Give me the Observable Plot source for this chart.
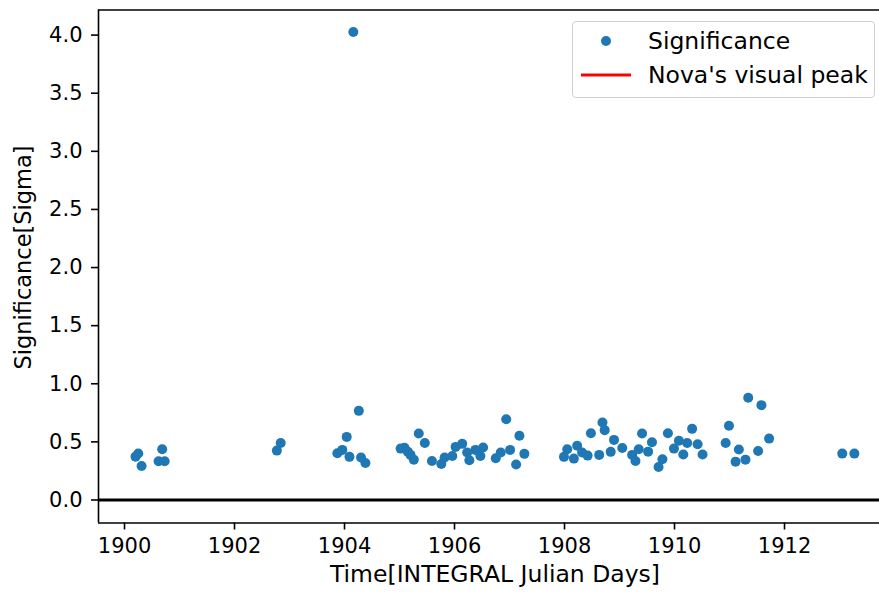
<!DOCTYPE html>
<html><head><meta charset="utf-8">
<script src="https://cdn.jsdelivr.net/npm/d3@7"></script>
<script src="https://cdn.jsdelivr.net/npm/@observablehq/plot@0.6"></script>
<style>
html,body{margin:0;padding:0;background:#fff;}
#wrap{position:relative;width:879px;height:599px;font-family:"DejaVu Sans",sans-serif;overflow:hidden;}
#legend{position:absolute;left:572px;top:21px;width:303px;height:77px;border:1.5px solid #d0d0d0;border-radius:4px;background:rgba(255,255,255,0.8);box-sizing:border-box;font-size:23.5px;color:#000;}
.row{position:absolute;left:0;height:24px;line-height:24px;width:300px;}
.row span{position:absolute;left:75px;white-space:nowrap;}
</style></head>
<body><div id="wrap"><div id="chart"></div>
<div id="legend">
<div class="row" style="top:7px"><svg width="60" height="24" style="position:absolute;left:0;top:0"><circle cx="33" cy="12" r="5" fill="#1f77b4"/></svg><span>Significance</span></div>
<div class="row" style="top:41px"><svg width="70" height="24" style="position:absolute;left:0;top:0"><line x1="8" x2="58" y1="12" y2="12" stroke="red" stroke-width="3"/></svg><span>Nova's visual peak</span></div>
</div></div>
<script>
const time = [1900.20,1900.25,1900.31,1900.62,1900.685,1900.73,1902.77,1902.84,1903.87,1903.96,1904.04,1904.09,1904.16,1904.26,1904.30,1904.38,1905.02,1905.09,1905.15,1905.20,1905.26,1905.35,1905.46,1905.59,1905.76,1905.82,1905.96,1906.02,1906.14,1906.23,1906.27,1906.38,1906.47,1906.52,1906.75,1906.84,1906.94,1907.01,1907.12,1907.18,1907.27,1907.99,1908.05,1908.17,1908.23,1908.32,1908.42,1908.48,1908.63,1908.69,1908.73,1908.84,1908.90,1909.05,1909.23,1909.29,1909.35,1909.41,1909.52,1909.59,1909.71,1909.78,1909.88,1909.99,1910.08,1910.16,1910.23,1910.32,1910.42,1910.51,1910.93,1910.99,1911.11,1911.17,1911.29,1911.34,1911.52,1911.58,1911.72,1913.05,1913.27];
const sigma = [0.373,0.40,0.293,0.333,0.437,0.333,0.425,0.491,0.402,0.431,0.543,0.371,4.026,0.767,0.365,0.319,0.442,0.45,0.416,0.388,0.347,0.572,0.491,0.336,0.31,0.365,0.379,0.457,0.483,0.408,0.342,0.431,0.379,0.451,0.359,0.408,0.695,0.431,0.305,0.552,0.397,0.371,0.437,0.356,0.466,0.408,0.382,0.575,0.388,0.666,0.601,0.414,0.517,0.448,0.388,0.336,0.437,0.572,0.416,0.497,0.284,0.351,0.575,0.442,0.509,0.391,0.491,0.612,0.48,0.391,0.491,0.638,0.330,0.434,0.347,0.879,0.422,0.816,0.528,0.399,0.399];
const novaPeak = [1913.75];
const xTicks = [1900,1902,1904,1906,1908,1910,1912];
const yTicks = [0,0.5,1,1.5,2,2.5,3,3.5,4];
const xLabel = ["Time[INTEGRAL Julian Days]"];
const yLabel = ["Significance[Sigma]"];
const xDomain = [1899.527, 1913.727];
const yDomain = [-0.198, 4.216];

const pts = time.map((t,i)=>({t, s: sigma[i]}));

const chart = Plot.plot({
  width: 879, height: 599,
  marginLeft: 98, marginRight: 0, marginTop: 9.5, marginBottom: 76.5,
  style: {fontFamily: '"DejaVu Sans", sans-serif', fontSize: "21px", color: "#000", background: "#fff", overflow: "hidden"},
  x: {domain: xDomain},
  y: {domain: yDomain},
  marks: [
    Plot.ruleY([0], {stroke: "#000", strokeWidth: 3}),
    Plot.ruleX(novaPeak, {stroke: "red", strokeWidth: 3}),
    Plot.dot(pts, {x: "t", y: "s", r: 5, fill: "#1f77b4", stroke: "none"}),
    Plot.ruleX([xDomain[0]], {stroke: "#000", strokeWidth: 1.6}),
    Plot.ruleY([yDomain[0], yDomain[1]], {stroke: "#000", strokeWidth: 1.6}),
    Plot.axisX({ticks: xTicks, tickFormat: d => String(d), tickSize: 7, tickPadding: 8, strokeWidth: 1.6, fontSize: 21, label: null}),
    Plot.axisY({ticks: yTicks, tickFormat: d3.format(".1f"), tickSize: 7, tickPadding: 9, strokeWidth: 1.6, fontSize: 21, label: null}),
    Plot.text(xLabel, {text: d => d, frameAnchor: "bottom", dy: 59, dx: 6, fontSize: 23.5, fill: "#000"}),
    Plot.text(yLabel, {text: d => d, frameAnchor: "left", textAnchor: "middle", lineAnchor: "middle", rotate: -90, dx: -75, dy: -9, fontSize: 22.5, fill: "#000"})
  ]
});
document.getElementById("chart").appendChild(chart);
</script></body></html>
